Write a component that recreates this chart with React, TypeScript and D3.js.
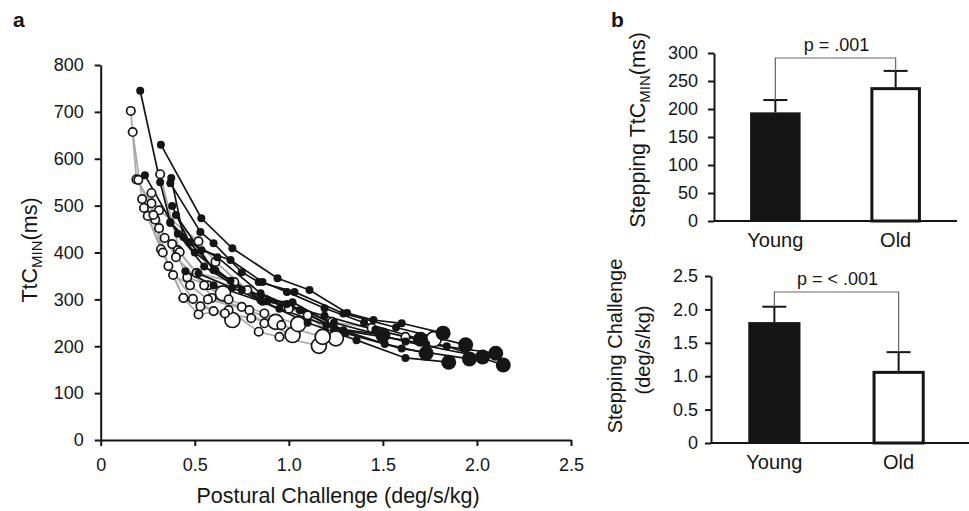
import React, { useRef, useEffect } from 'react';
import * as d3 from 'd3';

// Panel a: each subject's trials, [postural challenge, TtC min]; last point = stepping trial
const youngSeries: [number, number][][] = [
    [[0.16, 702], [0.19, 556], [0.27, 505], [0.36, 371], [0.49, 301], [0.60, 275], [0.70, 256]],
    [[0.17, 657], [0.22, 514], [0.31, 452], [0.38, 418], [0.46, 347], [0.57, 330], [0.65, 313]],
    [[0.23, 495], [0.32, 407], [0.44, 303], [0.52, 268], [0.68, 277], [0.84, 231], [0.95, 220], [1.16, 201]],
    [[0.27, 527], [0.34, 431], [0.41, 405], [0.51, 356], [0.59, 303], [0.75, 284], [0.87, 249], [1.02, 224]],
    [[0.25, 478], [0.385, 352], [0.475, 330], [0.57, 300], [0.79, 277], [0.93, 252]],
    [[0.316, 567], [0.42, 401], [0.51, 356], [0.71, 337], [0.88, 298], [1.10, 266], [1.25, 217]],
    [[0.31, 490], [0.52, 424], [0.61, 380], [0.78, 320], [1.00, 280], [1.23, 252], [1.44, 239], [1.62, 220], [1.77, 215]],
    [[0.29, 470], [0.40, 390], [0.55, 330], [0.68, 300], [0.87, 270], [1.05, 247]],
    [[0.20, 555], [0.28, 480], [0.33, 400], [0.44, 303], [0.53, 285], [0.66, 270], [0.80, 260], [0.96, 245], [1.18, 220]],
];

const oldSeries: [number, number][][] = [
    [[0.21, 745], [0.316, 550], [0.37, 465], [0.47, 422], [0.62, 390], [0.85, 313], [1.06, 277], [1.24, 239], [1.50, 224]],
    [[0.32, 630], [0.535, 473], [0.70, 409], [0.94, 345], [1.11, 320], [1.31, 271], [1.45, 256], [1.60, 249], [1.82, 228]],
    [[0.375, 559], [0.44, 433], [0.535, 405], [0.69, 384], [0.86, 337], [0.99, 316], [1.19, 281], [1.40, 250], [1.70, 215]],
    [[0.37, 548], [0.53, 444], [0.60, 420], [0.75, 358], [0.84, 337], [1.03, 316], [1.29, 270], [1.57, 240], [1.94, 203]],
    [[0.38, 499], [0.47, 422], [0.61, 362], [0.85, 298], [1.02, 294], [1.29, 234], [1.73, 205], [2.10, 185]],
    [[0.37, 463], [0.50, 400], [0.69, 340], [0.89, 298], [1.19, 265], [1.46, 235], [1.84, 200], [2.14, 160]],
    [[0.235, 565], [0.41, 440], [0.55, 370], [0.75, 320], [0.99, 290], [1.24, 250], [1.62, 210], [2.03, 177]],
    [[0.45, 360], [0.60, 330], [0.86, 295], [1.10, 250], [1.36, 213], [1.62, 175], [1.85, 166]],
    [[0.52, 355], [0.70, 325], [0.95, 280], [1.20, 245], [1.51, 205], [1.73, 185]],
    [[0.40, 480], [0.60, 362], [0.85, 300], [1.06, 277], [1.30, 228], [1.60, 195], [1.96, 173]],
];

const xTicksA = [0, 0.5, 1.0, 1.5, 2.0, 2.5];
const yTicksA = [0, 100, 200, 300, 400, 500, 600, 700, 800];

// Panel b
const groups = ["Young", "Old"];
const ttcMeans = [194, 239];
const ttcSD = [22, 29];
const ttcTicks = [0, 50, 100, 150, 200, 250, 300];
const challengeMeans = [1.81, 1.08];
const challengeSD = [0.23, 0.28];
const challengeTicks = [0, 0.5, 1.0, 1.5, 2.0, 2.5];

const FONT = "'Liberation Sans', Arial, Helvetica, sans-serif";
const INK = "#151515";

const fmt1 = (d: number) => (d === 0 ? "0" : d3.format(".1f")(d));

const App = () => {
    const svgRef = useRef<SVGSVGElement>(null);

    useEffect(() => {
        const svg = d3.select(svgRef.current);
        svg.selectAll("*").remove();
        svg.style("font-family", FONT);

        // ---------- Panel a ----------
        const x = d3.scaleLinear().domain([0, 2.5]).range([100.7, 571]);
        const y = d3.scaleLinear().domain([0, 800]).range([440, 65]);

        const a = svg.append("g");
        const xAxis = a.append("g")
            .attr("transform", "translate(0,440)")
            .call(d3.axisBottom(x).tickValues(xTicksA).tickFormat(d => fmt1(+d)).tickSize(6).tickSizeOuter(0).tickPadding(12));
        const yAxis = a.append("g")
            .attr("transform", "translate(100.7,0)")
            .call(d3.axisLeft(y).tickValues(yTicksA).tickFormat(d3.format("d")).tickSize(6).tickSizeOuter(0).tickPadding(11));
        [xAxis, yAxis].forEach(ax => {
            ax.select(".domain").attr("stroke", INK).attr("stroke-width", 2);
            ax.selectAll(".tick line").attr("stroke", INK).attr("stroke-width", 2);
            ax.selectAll(".tick text").attr("fill", INK).style("font-size", "18px").style("font-family", FONT);
        });

        const line = d3.line<[number, number]>().x(d => x(d[0])).y(d => y(d[1]));

        a.selectAll(".young-line").data(youngSeries).enter().append("path")
            .attr("d", d => line(d)).attr("fill", "none").attr("stroke", "#a9a9a9").attr("stroke-width", 1.7);
        a.selectAll(".old-line").data(oldSeries).enter().append("path")
            .attr("d", d => line(d)).attr("fill", "none").attr("stroke", INK).attr("stroke-width", 1.7);

        youngSeries.forEach(s => {
            a.append("g").selectAll("circle").data(s).enter().append("circle")
                .attr("cx", d => x(d[0])).attr("cy", d => y(d[1]))
                .attr("r", (d, i) => (i === s.length - 1 ? 7.5 : 4.2))
                .attr("fill", "#fff").attr("stroke", INK).attr("stroke-width", 1.7);
        });
        oldSeries.forEach(s => {
            a.append("g").selectAll("circle").data(s).enter().append("circle")
                .attr("cx", d => x(d[0])).attr("cy", d => y(d[1]))
                .attr("r", (d, i) => (i === s.length - 1 ? 7.5 : 4))
                .attr("fill", INK);
        });

        a.append("text").attr("x", 338).attr("y", 503).attr("text-anchor", "middle")
            .style("font-size", "21.5px").attr("fill", INK).text("Postural Challenge (deg/s/kg)");
        const yt = a.append("text").attr("transform", "translate(37,250) rotate(-90)")
            .attr("text-anchor", "middle").style("font-size", "21.5px").attr("fill", INK);
        yt.append("tspan").text("TtC");
        yt.append("tspan").attr("dy", 5).style("font-size", "15px").text("MIN");
        yt.append("tspan").attr("dy", -5).text("(ms)");

        svg.append("text").attr("x", 13).attr("y", 27).style("font-size", "21px").style("font-weight", "bold").attr("fill", INK).text("a");
        svg.append("text").attr("x", 611).attr("y", 27).style("font-size", "21px").style("font-weight", "bold").attr("fill", INK).text("b");

        // ---------- Panel b bars ----------
        const drawBars = (opts: {
            means: number[]; sd: number[]; ticks: number[]; domainMax: number;
            x0: number; x1: number; axisEnd: number; yTop: number; yBottom: number;
            fmt: (d: number) => string; label: string; bracketY: number; pad: number;
        }) => {
            const g = svg.append("g");
            const bx = d3.scaleBand().domain(groups).range([opts.x0, opts.x1]).paddingInner(0.58).paddingOuter(0.3);
            const by = d3.scaleLinear().domain([0, opts.domainMax]).range([opts.yBottom, opts.yTop]);

            const ax = g.append("g").attr("transform", `translate(${opts.x0},0)`)
                .call(d3.axisLeft(by).tickValues(opts.ticks).tickFormat(d => opts.fmt(+d)).tickSize(6).tickSizeOuter(0).tickPadding(opts.pad));
            ax.select(".domain").attr("stroke", INK).attr("stroke-width", 2);
            ax.selectAll(".tick line").attr("stroke", INK).attr("stroke-width", 2);
            ax.selectAll(".tick text").attr("fill", INK).style("font-size", "18px").style("font-family", FONT);

            g.append("line").attr("x1", opts.x0).attr("x2", opts.axisEnd)
                .attr("y1", by(0)).attr("y2", by(0)).attr("stroke", INK).attr("stroke-width", 2);

            // error bars
            groups.forEach((k, i) => {
                const cx = bx(k)! + bx.bandwidth() / 2;
                const top = by(opts.means[i] + opts.sd[i]);
                g.append("line").attr("x1", cx).attr("x2", cx).attr("y1", by(opts.means[i])).attr("y2", top)
                    .attr("stroke", INK).attr("stroke-width", 2);
                g.append("line").attr("x1", cx - 12).attr("x2", cx + 12).attr("y1", top).attr("y2", top)
                    .attr("stroke", INK).attr("stroke-width", 2);
            });

            groups.forEach((k, i) => {
                const h = by(0) - by(opts.means[i]);
                if (i === 0) {
                    g.append("rect").attr("x", bx(k)!).attr("y", by(opts.means[i])).attr("width", bx.bandwidth()).attr("height", h)
                        .attr("fill", INK);
                } else {
                    g.append("rect").attr("x", bx(k)! + 1.5).attr("y", by(opts.means[i]) + 1.5)
                        .attr("width", bx.bandwidth() - 3).attr("height", h - 1.5)
                        .attr("fill", "#fff").attr("stroke", INK).attr("stroke-width", 3);
                }
                g.append("text").attr("x", bx(k)! + bx.bandwidth() / 2).attr("y", by(0) + 26)
                    .attr("text-anchor", "middle").style("font-size", "20px").attr("fill", INK).text(k);
            });

            // significance bracket
            const c0 = bx(groups[0])! + bx.bandwidth() / 2;
            const c1 = bx(groups[1])! + bx.bandwidth() / 2;
            const t0 = by(opts.means[0] + opts.sd[0]);
            const t1 = by(opts.means[1] + opts.sd[1]);
            g.append("path")
                .attr("d", `M${c0},${t0}V${opts.bracketY}H${c1}V${t1}`)
                .attr("fill", "none").attr("stroke", "#666").attr("stroke-width", 1.2);
            g.append("text").attr("x", (c0 + c1) / 2 + 1).attr("y", opts.bracketY - 7)
                .attr("text-anchor", "middle").style("font-size", "18px").attr("fill", INK).text(opts.label);
            return g;
        };

        drawBars({
            means: ttcMeans, sd: ttcSD, ticks: ttcTicks, domainMax: 300,
            x0: 714, x1: 957, axisEnd: 957, yTop: 53, yBottom: 221,
            fmt: d3.format("d"), label: "p = .001", bracketY: 58, pad: 10,
        });
        drawBars({
            means: challengeMeans, sd: challengeSD, ticks: challengeTicks, domainMax: 2.5,
            x0: 711, x1: 962, axisEnd: 969, yTop: 276, yBottom: 443,
            fmt: fmt1, label: "p = < .001", bracketY: 292, pad: 7,
        });

        const t1 = svg.append("text").attr("transform", "translate(645,130) rotate(-90)")
            .attr("text-anchor", "middle").style("font-size", "21.5px").attr("fill", INK);
        t1.append("tspan").text("Stepping TtC");
        t1.append("tspan").attr("dy", 5).style("font-size", "15px").text("MIN");
        t1.append("tspan").attr("dy", -5).text("(ms)");

        svg.append("text").attr("transform", "translate(622,346) rotate(-90)")
            .attr("text-anchor", "middle").style("font-size", "20px").attr("fill", INK).text("Stepping Challenge");
        svg.append("text").attr("transform", "translate(650,350) rotate(-90)")
            .attr("text-anchor", "middle").style("font-size", "20px").attr("fill", INK).text("(deg/s/kg)");
    }, []);

    return (
        <div style={{ position: "absolute", left: 0, top: 0 }}>
            <svg ref={svgRef} width={969} height={511} style={{ display: "block", background: "#fff" }}></svg>
        </div>
    );
};

export default App;
